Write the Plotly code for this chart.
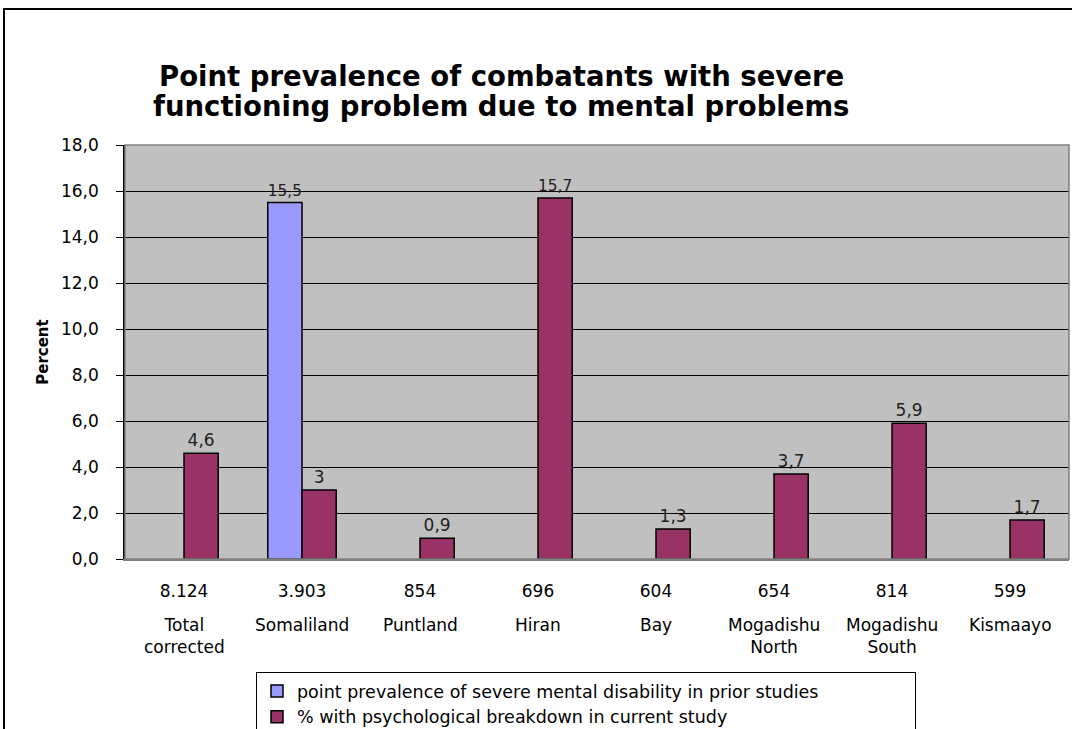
import plotly.graph_objects as go

categories = ["Total corrected", "Somaliland", "Puntland", "Hiran", "Bay",
              "Mogadishu North", "Mogadishu South", "Kismaayo"]
name_labels = ["Total<br>corrected", "Somaliland", "Puntland", "Hiran", "Bay",
               "Mogadishu<br>North", "Mogadishu<br>South", "Kismaayo"]
counts = ["8.124", "3.903", "854", "696", "604", "654", "814", "599"]
prior_values = [None, 15.5, None, None, None, None, None, None]
prior_labels = ["", "15,5", "", "", "", "", "", ""]
current_values = [4.6, 3, 0.9, 15.7, 1.3, 3.7, 5.9, 1.7]
current_labels = ["4,6", "3", "0,9", "15,7", "1,3", "3,7", "5,9", "1,7"]
y_ticks = [0, 2, 4, 6, 8, 10, 12, 14, 16, 18]
title_lines = ["Point prevalence of combatants with severe",
               "functioning problem due to mental problems"]

FONT = "DejaVu Sans"
W, H = 1072, 729
L, R, T, B = 125, 3, 145, 170
pw = W - L - R
ph = H - T - B

def py(pix):
    """pixel row -> paper y"""
    return (H - B - pix) / ph

def px(pix):
    return (pix - L) / pw

fig = go.Figure()
fig.add_trace(go.Bar(
    x=categories, y=prior_values, text=prior_labels,
    name="point prevalence of severe mental disability in prior studies",
    marker=dict(color="#9999FF", line=dict(color="black", width=1.5)),
    textposition="outside", cliponaxis=False,
    textfont=dict(family=FONT, size=17, color="#222222"),
))
fig.add_trace(go.Bar(
    x=categories, y=current_values, text=current_labels,
    name="% with psychological breakdown in current study",
    marker=dict(color="#993366", line=dict(color="black", width=1.5)),
    textposition="outside", cliponaxis=False,
    textfont=dict(family=FONT, size=17, color="#222222"),
))

for cat, lab in zip(categories, name_labels):
    fig.add_annotation(x=cat, xref="x", y=py(613), yref="paper",
                       text=lab, showarrow=False, yanchor="top",
                       font=dict(family=FONT, size=17, color="black"))

for line, ypix in zip(title_lines, [76, 106]):
    fig.add_annotation(x=px(501), xref="paper", y=py(ypix), yref="paper",
                       text="<b>" + line + "</b>", showarrow=False,
                       xanchor="center", yanchor="middle",
                       font=dict(family=FONT, size=27.5, color="black"))

# outer chart frame
fig.add_shape(type="rect", xref="paper", yref="paper",
              x0=px(4), x1=1.2, y0=-1.0, y1=py(9),
              line=dict(color="black", width=2), layer="below")
# plot area border
fig.add_shape(type="rect", xref="paper", yref="paper", x0=0, x1=1, y0=0, y1=1,
              line=dict(color="#808080", width=1.5))

fig.update_layout(
    width=W, height=H,
    margin=dict(l=L, r=R, t=T, b=B, autoexpand=False),
    paper_bgcolor="white", plot_bgcolor="#C0C0C0",
    separators=",.",
    barmode="group", bargap=0.42, bargroupgap=0,
    showlegend=True,
    legend=dict(orientation="h", x=px(256), xanchor="left",
                y=py(672), yanchor="top",
                bgcolor="white", bordercolor="black", borderwidth=1,
                font=dict(family=FONT, size=17.5, color="black"),
                itemwidth=30, entrywidth=613, entrywidthmode="pixels",
                tracegroupgap=0),
    xaxis=dict(tickvals=categories, ticktext=counts, showline=True,
               linecolor="#808080", linewidth=1.5, ticks="", showgrid=False,
               tickfont=dict(family=FONT, size=17, color="black"),
               ticklabelstandoff=16),
    yaxis=dict(range=[0, 18], tickvals=y_ticks, tickformat=".1f",
               showgrid=True, gridcolor="black", gridwidth=1,
               showline=True, linecolor="black", linewidth=1.5,
               ticks="outside", ticklen=7, tickcolor="black",
               tickfont=dict(family=FONT, size=17, color="black"),
               ticklabelstandoff=14,
               title=dict(text="<b>Percent</b>", standoff=9,
                          font=dict(family=FONT, size=15, color="black")),
               zeroline=False),
)

fig.write_html("out.html", config={"displayModeBar": False},
               post_script="document.body.style.margin='0';document.body.style.padding='0';")
